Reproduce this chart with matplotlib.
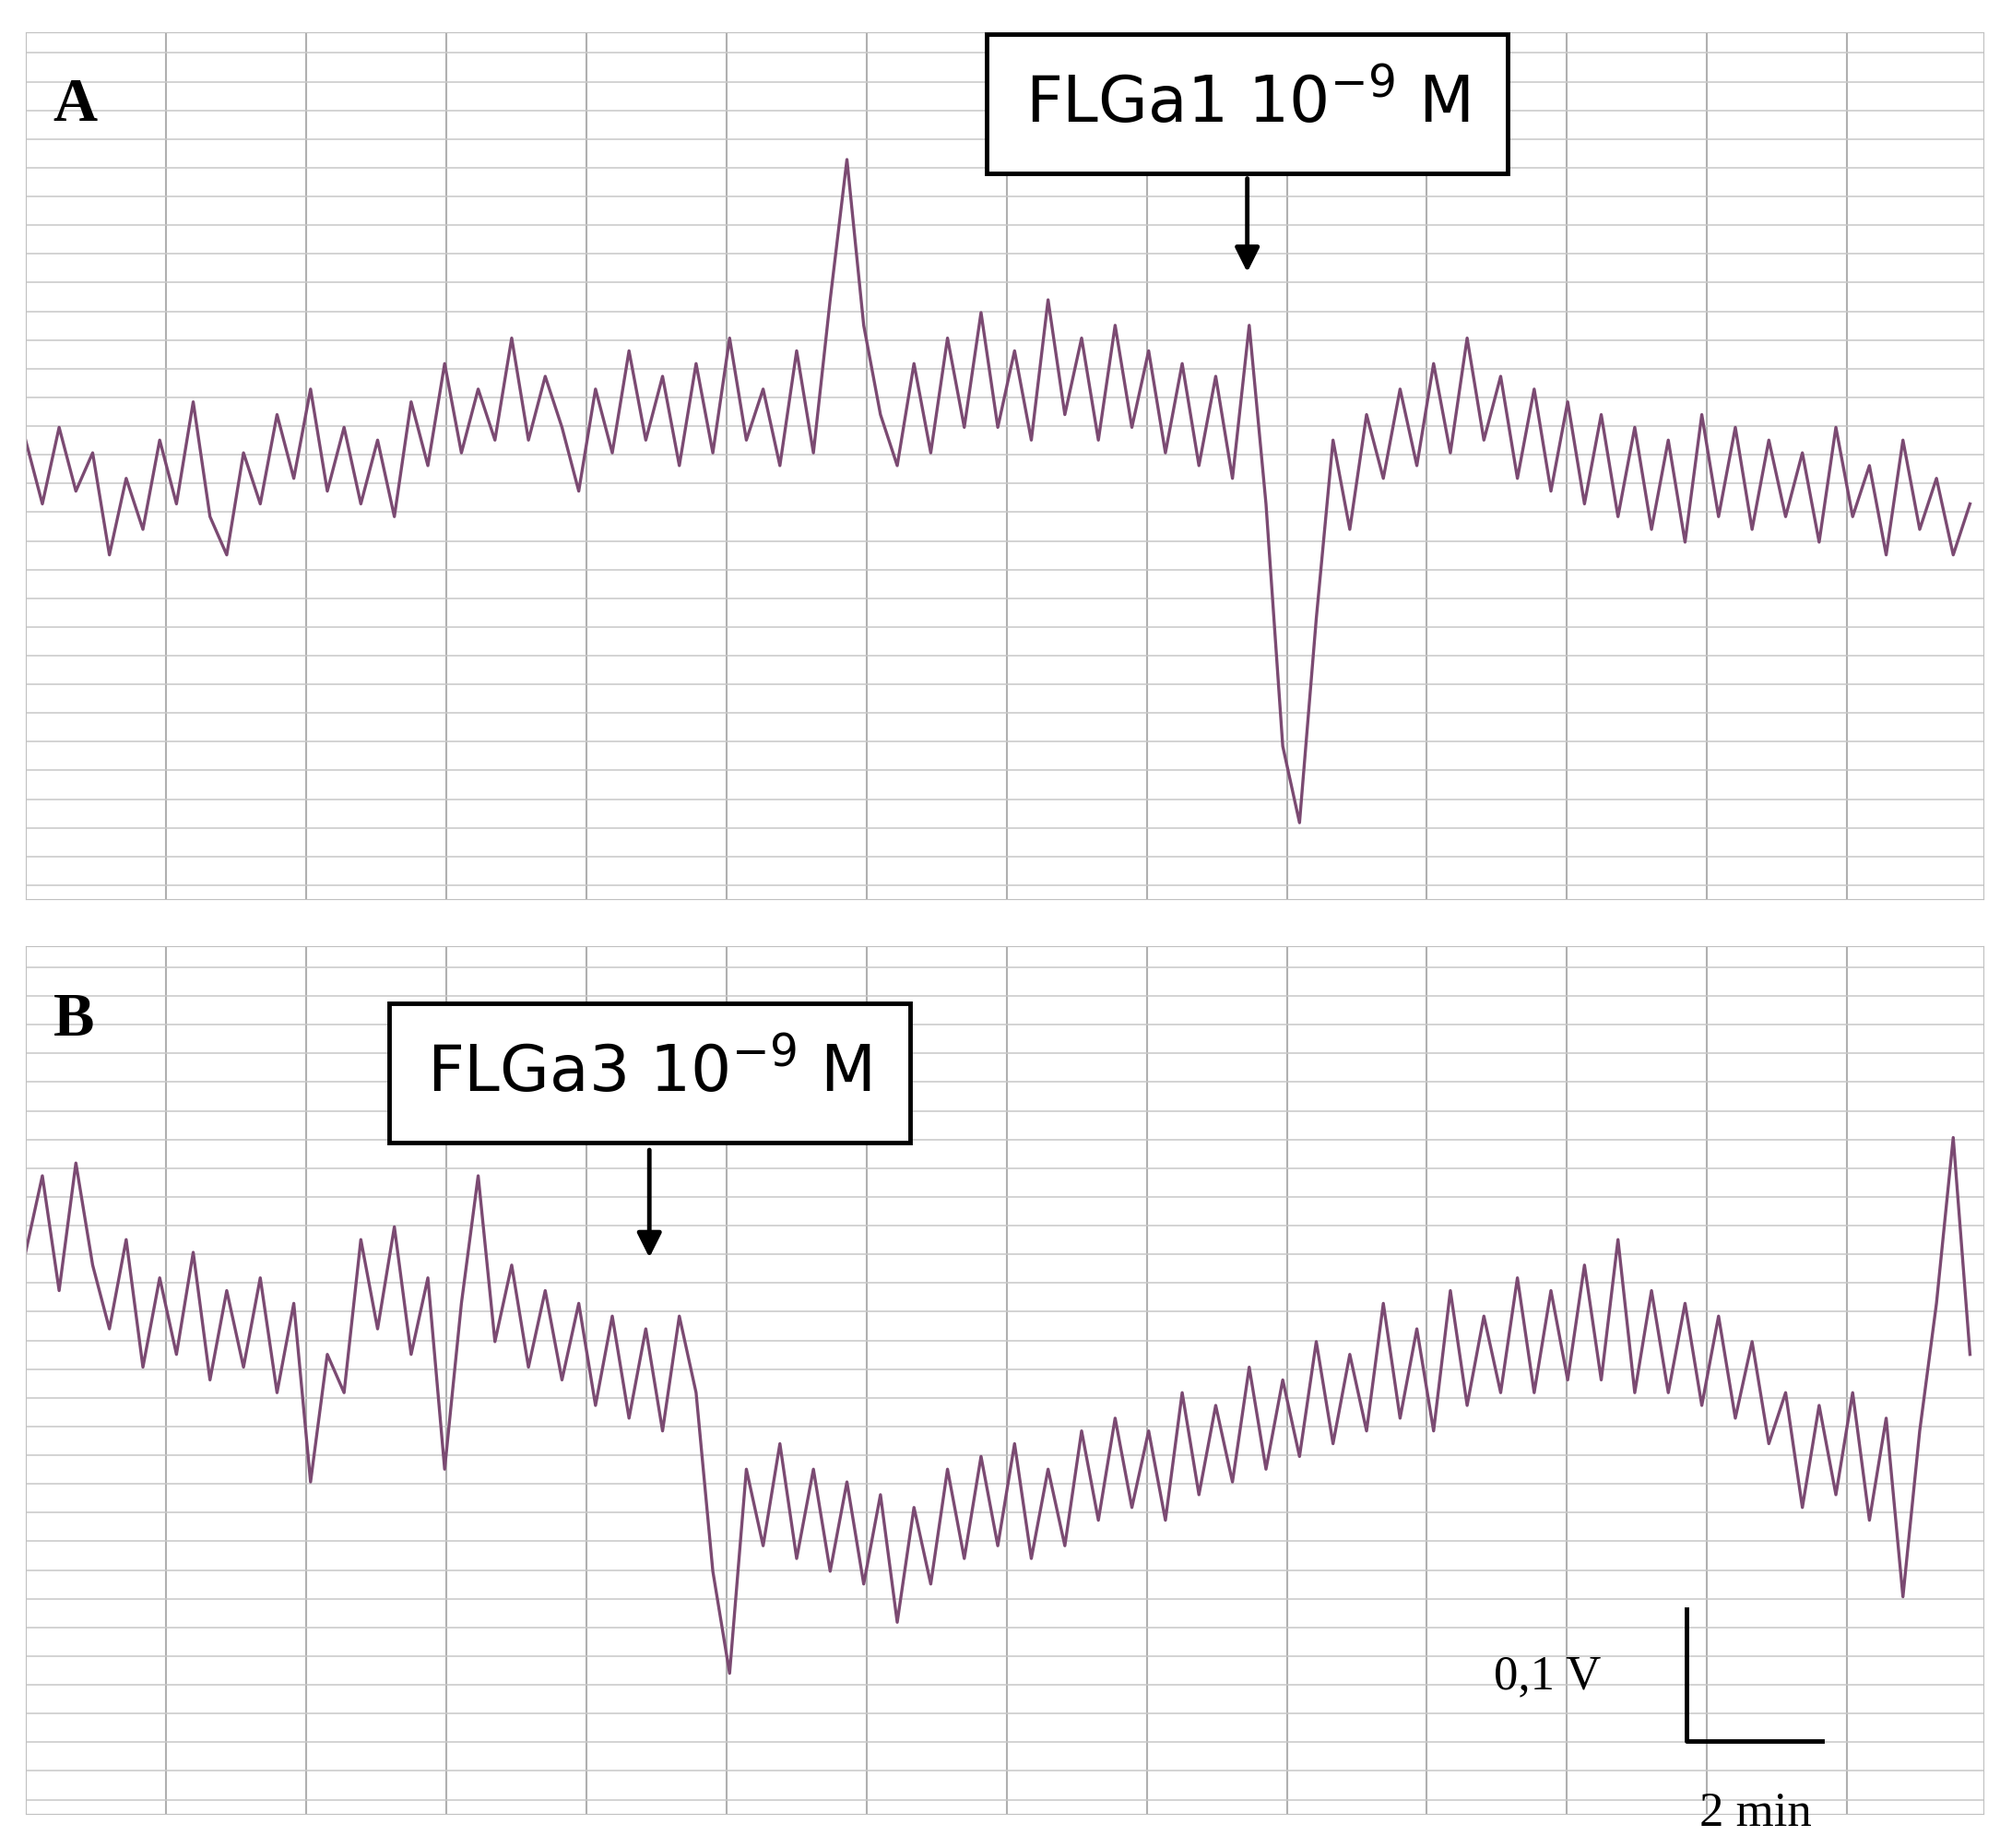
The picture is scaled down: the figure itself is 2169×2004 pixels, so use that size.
import numpy as np
import matplotlib
matplotlib.use("Agg")
import matplotlib.pyplot as plt

# time (min), step 0.25
time_a = np.arange(117) * 0.25
trace_a = [0.36,0.31,0.37,0.32,0.35,
 0.27,0.33,0.29,0.36, 0.31,0.39,0.30,0.27, 0.35,0.31,0.38,0.33, 0.40,0.32,0.37,0.31,
 0.36,0.30,0.39,0.34, 0.42,0.35,0.40,0.36, 0.44,0.36,0.41,0.37, 0.32,0.40,0.35,0.43,
 0.36,0.41,0.34,0.42, 0.35,0.44,0.36,0.40, 0.34,0.43,0.35,0.47, 0.58,0.45,0.38,0.34,
 0.42,0.35,0.44,0.37, 0.46,0.37,0.43,0.36, 0.47,0.38,0.44,0.36, 0.45,0.37,0.43,0.35,
 0.42,0.34,0.41,0.33, 0.45,0.31,0.12,0.06, 0.22,0.36,0.29,0.38, 0.33,0.40,0.34,0.42,
 0.35,0.44,0.36,0.41, 0.33,0.40,0.32,0.39, 0.31,0.38,0.30,0.37, 0.29,0.36,0.28,0.38,
 0.30,0.37,0.29,0.36, 0.30,0.35,0.28,0.37, 0.30,0.34,0.27,0.36, 0.29,0.33,0.27,0.31]
time_b = np.arange(117) * 0.25
trace_b = [0.44,0.50,0.41,0.51,0.43,
 0.38,0.45,0.35,0.42, 0.36,0.44,0.34,0.41, 0.35,0.42,0.33,0.40, 0.26,0.36,0.33,0.45,
 0.38,0.46,0.36,0.42, 0.27,0.40,0.50,0.37, 0.43,0.35,0.41,0.34, 0.40,0.32,0.39,0.31,
 0.38,0.30,0.39,0.33, 0.19,0.11,0.27,0.21, 0.29,0.20,0.27,0.19, 0.26,0.18,0.25,0.15,
 0.24,0.18,0.27,0.20, 0.28,0.21,0.29,0.20, 0.27,0.21,0.30,0.23, 0.31,0.24,0.30,0.23,
 0.33,0.25,0.32,0.26, 0.35,0.27,0.34,0.28, 0.37,0.29,0.36,0.30, 0.40,0.31,0.38,0.30,
 0.41,0.32,0.39,0.33, 0.42,0.33,0.41,0.34, 0.43,0.34,0.45,0.33, 0.41,0.33,0.40,0.32,
 0.39,0.31,0.37,0.29, 0.33,0.24,0.32,0.25, 0.33,0.23,0.31,0.17, 0.30,0.40,0.53,0.36]
labels = ["A", "B"]
annotations = ["FLGa1 10$^{-9}$ M", "FLGa3 10$^{-9}$ M"]

fig = plt.figure(figsize=(21.69, 20.04), dpi=100)
axA = fig.add_axes([0.0128, 0.5134, 0.9789, 0.4693])
axB = fig.add_axes([0.0128, 0.0186, 0.9789, 0.4694])

color = "#7b4a72"
for ax, t, v, lab in [(axA, time_a, trace_a, labels[0]), (axB, time_b, trace_b, labels[1])]:
    ax.set_xlim(0, 29.2)
    ax.set_ylim(0, 0.68)
    for xv in np.arange(2.09, 29.2, 2.09):
        ax.axvline(xv, color="#b0b0b0", lw=1.5, zorder=0)
    for yv in np.arange(0.011, 0.68, 0.0225):
        ax.axhline(yv, color="#c8c8c8", lw=1.1, zorder=0)
    ax.plot(t, v, color=color, lw=2.4, zorder=2)
    ax.set_xticks([]); ax.set_yticks([])
    for s in ax.spines.values():
        s.set_color("#c0c0c0")
    ax.text(0.014, 0.915, lab, transform=ax.transAxes, fontsize=48, fontweight="bold",
            family="Liberation Serif", va="center", ha="left")

def box(ax, text, cx, cy, ax_y0, ax_y1):
    ax.text(cx, cy, text, transform=ax.transAxes, fontsize=50, family="DejaVu Sans",
            ha="center", va="center", zorder=5,
            bbox=dict(boxstyle="square,pad=0.6", fc="white", ec="black", lw=3.5))
    ax.annotate("", xy=(cx, ax_y1), xytext=(cx, ax_y0), xycoords="axes fraction",
                arrowprops=dict(arrowstyle="-|>,head_width=0.8,head_length=1.6",
                                color="black", lw=3.5), zorder=5)

box(axA, annotations[0], 0.624, 0.917, 0.834, 0.72)
box(axB, annotations[1], 0.3186, 0.854, 0.768, 0.638)

# scale bar
axB.plot([24.77, 24.77, 26.8], [0.16, 0.057, 0.057], color="black", lw=3.5, zorder=5)
axB.text(22.7, 0.107, "0,1 V", fontsize=38, family="Liberation Serif", ha="center", va="center")
axB.text(25.8, 0.0, "2 min", fontsize=38, family="Liberation Serif", ha="center",
         va="center", clip_on=False)

fig.savefig("out.png", dpi=100)
